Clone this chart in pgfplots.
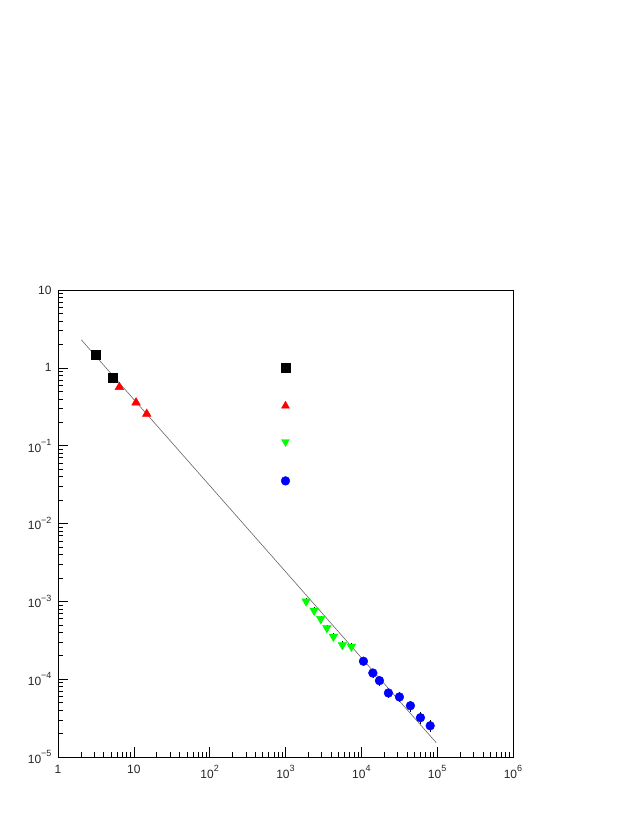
\documentclass[border=0pt]{standalone}
\usepackage{fontspec}
\setmainfont{Liberation Sans}
\usepackage{pgfplots}
\pgfplotsset{compat=1.18}
\definecolor{rgreen}{RGB}{0,255,0}
\newcommand{\sps}[1]{\raisebox{0.55em}{\fontsize{9}{10}\selectfont #1}}
\begin{document}
\begin{tikzpicture}[x=1pt,y=1pt]
\useasboundingbox (0,0) rectangle (632,817);
\begin{axis}[
  at={(58pt,60pt)}, anchor=south west,
  scale only axis, width=455pt, height=467pt,
  xmode=log, ymode=log,
  xmin=1, xmax=1e6, ymin=1e-5, ymax=10,
  tick pos=left, tick align=inside,
  major tick length=10pt, minor tick length=5pt,
  every tick/.style={black, line width=0.5pt},
  axis line style={line width=0.7pt},
  xtick={1,10,100,1000,10000,100000,1000000},
  xticklabels={1,10,10\sps{2},10\sps{3},10\sps{4},10\sps{5},10\sps{6}},
  ytick={1e-5,1e-4,1e-3,1e-2,1e-1,1,10},
  yticklabels={10\sps{−5},10\sps{−4},10\sps{−3},10\sps{−2},10\sps{−1},1,10},
  ticklabel style={font=\fontsize{12}{14}\selectfont, text=black!85},
  xticklabel style={yshift=-5pt, anchor=north},
  yticklabel style={xshift=-3pt},
  clip=false,
]
% fit line
\addplot[gray!80!black, line width=0.6pt, no marks] coordinates {(2.03,2.29) (97000,1.53e-5)};
% black squares
\addplot[only marks, mark=square*, mark size=4.3pt, black] coordinates {(3.17,1.47) (5.3,0.743)};
% red triangles
\addplot[only marks, mark=triangle*, mark size=5pt, red, mark options={draw=red, fill=red}] coordinates {(6.44,0.565) (10.7,0.358) (14.8,0.256)};
% green down triangles
\addplot[only marks, mark=triangle*, mark size=5pt, rgreen, mark options={rotate=180, draw=rgreen, fill=rgreen},
  error bars/.cd, y dir=both, y explicit relative, error bar style={black, line width=0.3pt}, error mark=none]
  coordinates {(1870,1.0e-3) +- (0,0.1) (2385,7.6e-4) +- (0,0.1) (2920,5.94e-4) +- (0,0.1) (3510,4.55e-4) +- (0,0.1) (4285,3.52e-4) +- (0,0.1) (5630,2.75e-4) +- (0,0.12) (7400,2.62e-4) +- (0,0.12)};
% blue circles
\addplot[only marks, mark=*, mark size=4.4pt, blue, mark options={draw=blue, fill=blue},
  error bars/.cd, y dir=both, y explicit relative, error bar style={black, line width=0.3pt}, error mark=none]
  coordinates {(10660,1.70e-4) +- (0,0.12) (14190,1.20e-4) +- (0,0.14) (17330,9.57e-5) +- (0,0.14) (22760,6.65e-5) +- (0,0.14) (31800,5.91e-5) +- (0,0.15) (44400,4.56e-5) +- (0,0.16) (60200,3.20e-5) +- (0,0.17) (80900,2.52e-5) +- (0,0.18)};
% legend markers (no text)
\addplot[only marks, mark=square*, mark size=4.3pt, black] coordinates {(1000,1.0)};
\addplot[only marks, mark=triangle*, mark size=4.6pt, red, mark options={draw=red, fill=red}] coordinates {(1000,0.325)};
\addplot[only marks, mark=triangle*, mark size=4.6pt, rgreen, mark options={rotate=180, draw=rgreen, fill=rgreen}] coordinates {(1000,0.112)};
\addplot[only marks, mark=*, mark size=4.4pt, blue, mark options={draw=blue, fill=blue}] coordinates {(1000,0.0353)};
\end{axis}
\end{tikzpicture}
\end{document}
